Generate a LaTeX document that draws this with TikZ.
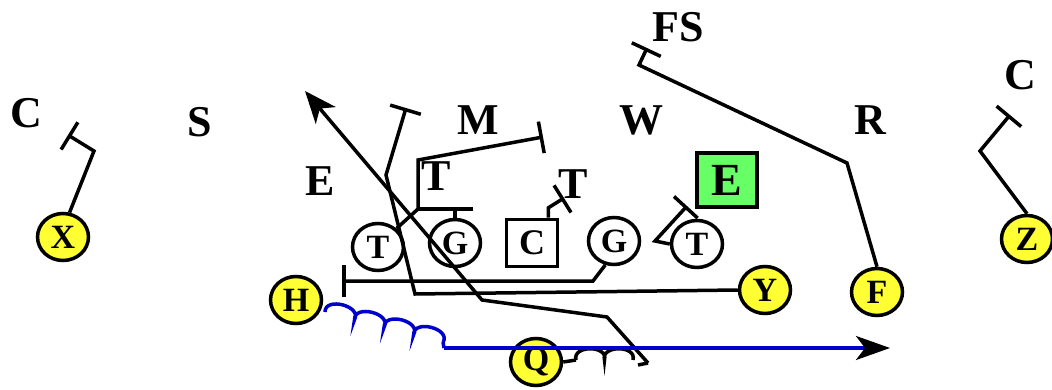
\documentclass[tikz,border=0pt]{standalone}
\usepackage{fontspec}
\setmainfont{Liberation Serif}
\usetikzlibrary{arrows.meta,shapes.geometric}
\definecolor{yelc}{HTML}{FFFF33}
\definecolor{grnc}{HTML}{66FF66}
\definecolor{bluc}{HTML}{0000CC}
\begin{document}
\begin{tikzpicture}[x=1pt,y=-1pt,
  lab/.style={font=\fontsize{44}{44}\selectfont\bfseries, inner sep=0pt},
  player/.style={ellipse, draw, line width=3.5pt, minimum width=51pt, minimum height=47pt, inner sep=0pt, font=\fontsize{34}{34}\selectfont\bfseries},
  offy/.style={player, fill=yelc},
  offw/.style={player, fill=white},
  sqbox/.style={rectangle, draw, line width=3.5pt, minimum width=51pt, minimum height=47pt, inner sep=0pt, font=\fontsize{36}{36}\selectfont\bfseries},
  ebox/.style={rectangle, draw, fill=grnc, line width=3.5pt, minimum width=60pt, minimum height=54pt, inner sep=0pt, font=\fontsize{46}{46}\selectfont\bfseries},
  route/.style={line width=3.5pt},
  blk/.style={-{Bar[width=32pt]}},
  bigarrow/.style={-{Stealth[length=32pt,width=26pt,inset=9pt]}},
  bluearrow/.style={-{Stealth[length=34pt,width=24pt,inset=9pt,black]}},
]
\useasboundingbox (0,0) rectangle (1052,390);
\fill[white] (0,0) rectangle (1052,390);

% defense labels
\node[lab] (cl) at (26,113) {C};
\node[lab] (s) at (200,122) {S};
\node[lab] (e) at (320,181) {E};
\node[lab] (m) at (478,120) {M};
\node[lab] (w) at (641,120) {W};
\node[lab] (r) at (870,120) {R};
\node[lab] (fs) at (678,27) {FS};
\node[lab] (cr) at (1020,75) {C};
\node[lab] (t1) at (436,176) {T};
\node[lab] (t2) at (573,184) {T};
\node[ebox] (eb) at (727,180) {E};

% offense
\node[offy] (X) at (63,237) {X};
\node[offy] (H) at (296,300) {H};
\node[offy] (Q) at (536,362) {Q};
\node[offy] (Y) at (765,290) {Y};
\node[offy] (F) at (877,292) {F};
\node[offy] (Z) at (1027,239) {Z};
\node[offw] (T1) at (378,247) {T};
\node[offw] (G1) at (455,243) {G};
\node[sqbox] (C) at (532,243) {C};
\node[offw] (G2) at (614,241) {G};
\node[offw] (T2) at (697,244) {T};

% waypoints
\coordinate (x1) at (94,151);
\coordinate (x2) at (68,135);
\coordinate (a1) at (418,209);
\coordinate (a2) at (418,160);
\coordinate (a3) at (543,137);
\coordinate (b1) at (473,209);
\coordinate (y1) at (415,294);
\coordinate (y2) at (386,175);
\coordinate (y3) at (406,108);
\coordinate (g1) at (593,281);
\coordinate (g2) at (342,281);
\coordinate (k1) at (655,241);
\coordinate (k2) at (687,206);
\coordinate (c2) at (564,198);
\coordinate (f1) at (847,163);
\coordinate (f2) at (639,65);
\coordinate (f3) at (647,48);
\coordinate (z1) at (980,151);
\coordinate (z2) at (1010,115);
\coordinate (q1) at (648,363);
\coordinate (q2) at (607,317);
\coordinate (q3) at (482,300);
\coordinate (q4) at (305,91);
\coordinate (qa) at (576,360);
\coordinate (qb) at (633,360);
\coordinate (qc) at (638,365);
\coordinate (h0) at (325,312);
\coordinate (h1) at (443,342);
\coordinate (h2) at (444,348);
\coordinate (h3) at (890,348);

% routes
\draw[route,blk] (X.75) -- (x1) -- (x2);
\draw[route,blk] (T1.45) -- (a1) -- (a2) -- (a3);
\draw[route] (a1) -- (b1);
\draw[route] (G1.north) -- (G1.north |- a1);
\draw[route,blk] (Y.west) -- (y1) -- (y2) -- (y3);
\draw[route,blk] (G2.250) -- (g1) -- (g2);
\draw[route,blk] (T2.west) -- (k1) -- (k2);
\draw[route,blk] (C.57) -- ++(0,-10) -- (c2);
\draw[route,blk] (F.north) -- (f1) -- (f2) -- (f3);
\draw[route,blk] (Z.north) -- (z1) -- (z2);
\draw[route,bigarrow] (q1) -- (q2) -- (q3) -- (q4);

% QB fake coil
\draw[route] (Q.east) -- (qa);
\begin{scope}[shift={(qa)}]
  \draw[route] (0,0) \foreach \i in {0,1} { .. controls ({\i*28.5-4},-15) and ({(\i+1)*28.5+4},-15) .. ({(\i+1)*28.5},0) };
\end{scope}
\draw[route] (qc) -- (q1);

% H motion coil
\begin{scope}[shift={(h0)},rotate=-14.26]
  \draw[route,bluc] (0,0) \foreach \i in {0,1,2,3} { .. controls ({\i*30.5-4},-15) and ({(\i+1)*30.5+4},-15) .. ({(\i+1)*30.5},0) };
\end{scope}
\draw[route,bluc] (h1) -- (h2);
\draw[route,bluc,bluearrow] (h2) -- (h3);
\end{tikzpicture}
\end{document}
